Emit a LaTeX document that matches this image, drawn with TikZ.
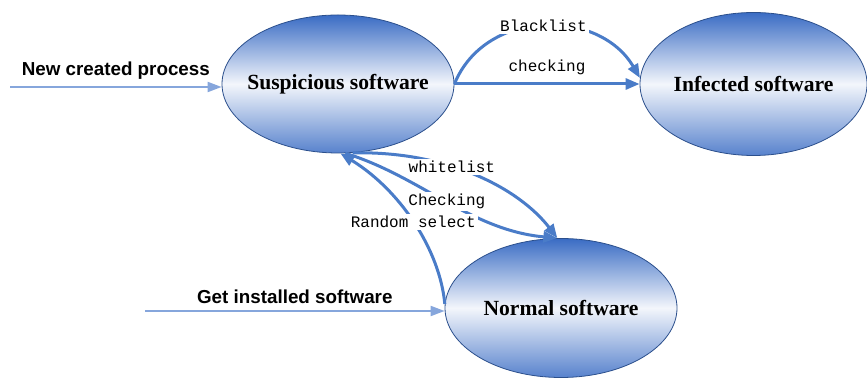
\documentclass[tikz,border=0pt]{standalone}
\usepackage{fontspec}
\setmainfont{Liberation Serif}
\newfontfamily\labmono{Liberation Mono}
\newfontfamily\labsans{Liberation Sans}
\usetikzlibrary{shapes.geometric,arrows.meta}

\definecolor{ellblue}{HTML}{3A6CC4}
\definecolor{rimblue}{HTML}{2B4F8C}
\definecolor{arrblue}{HTML}{4A7CC8}
\definecolor{feedblue}{HTML}{86A6DC}

\begin{document}
\begin{tikzpicture}[x=0.5pt,y=-0.5pt,
  state/.style={ellipse,draw=rimblue,line width=0.4pt,
    top color=ellblue,bottom color=ellblue!85!white,middle color=ellblue!6!white,
    minimum width=116pt,minimum height=69pt,inner xsep=-5pt,inner ysep=0pt,
    font=\bfseries\fontsize{10.8}{12}\selectfont},
  flow/.style={draw=arrblue,line width=1.5pt,-{Triangle[length=7pt,width=5.5pt]}},
  feed/.style={draw=feedblue,line width=1pt,-{Triangle[length=7pt,width=5pt]}},
  lbl/.style={font=\labmono\fontsize{8}{9}\selectfont,fill=white,inner sep=1pt},
  inlbl/.style={font=\labsans\bfseries\fontsize{9.4}{11}\selectfont}]
  \useasboundingbox (0,0) rectangle (867,378);

  % states
  \node[state] (susp) at (338,84) {Suspicious software};
  \node[state,minimum width=113.5pt,minimum height=71.5pt] (inf) at (753.5,84) {Infected software};
  \node[state,minimum height=69.5pt] (norm) at (561,308) {Normal software};

  % inputs
  \coordinate (newin) at (10,87);
  \coordinate (getin) at (145,311);
  \draw[feed] (newin) -- node[inlbl,above]{New created process} (newin -| susp.west);
  \draw[feed] (getin) -- node[inlbl,above]{Get installed software} (getin -| norm.west);

  % suspicious -> infected
  \draw[flow] (susp.east) .. controls +(31,-76) and +(-41,-70) .. node[lbl]{Blacklist} (inf.177);
  \draw[flow] (susp.east) -- node[lbl,above=3pt]{checking} (inf.west);

  % suspicious <-> normal
  \draw[flow] (susp.-78) .. controls +(98,-2) and +(-37,-48) .. node[lbl,pos=0.38]{whitelist} (norm.93);
  \draw[flow] (susp.-84) .. controls +(75,23) and +(-87,-8) .. node[lbl]{Checking} (norm.93);
  \draw[flow] (norm.178) .. controls +(-5,-54) and +(60,37) .. node[lbl]{Random select} (susp.-88);
\end{tikzpicture}
\end{document}
